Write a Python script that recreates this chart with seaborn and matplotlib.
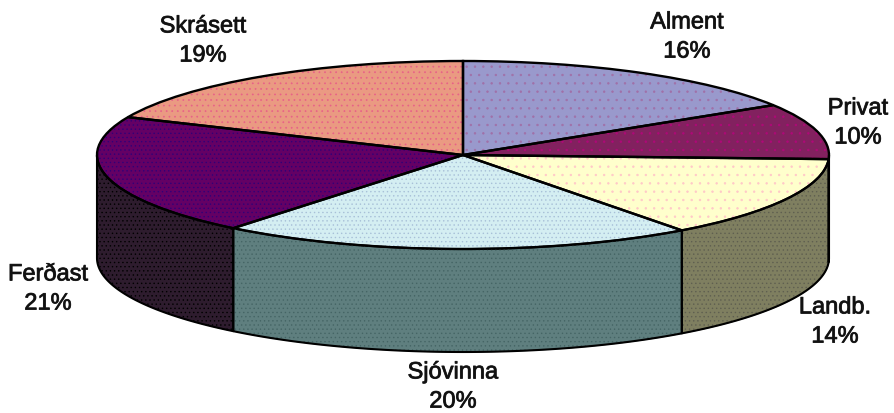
import numpy as np
import matplotlib
matplotlib.use("Agg")
import matplotlib.pyplot as plt
import matplotlib.patheffects as pe
import seaborn as sns

# Data
categories = ["Alment", "Privat", "Landb.", "Sjóvinna", "Ferðast", "Skrásett"]
label_percents = [16, 10, 14, 20, 21, 19]
slice_shares = [16.1, 9.6, 14.1, 21.0, 20.8, 18.4]

# Style
top_colors = ["#9999cc", "#82215f", "#ffffcc", "#d4eef2", "#640064", "#ea9a82"]
top_dots = ["#a070a8", "#b00878", "#ffc8c8", "#a8c0d8", "#300078", "#e86088"]
top_hatch = ["..", "..", "..", "....", "....", "..."]
side_colors = ["#4c4c66", "#41102f", "#7f7f60", "#5f7f7f", "#2e1c2e", "#754d41"]
side_dots = ["#404060", "#300020", "#5f5f50", "#456565", "#000000", "#604030"]
label_xy_px = [(687, 38), (858, 124), (835, 323), (453, 388), (48, 290), (203, 42)]

W, H = 894, 414
CX, CY, RX, RY, DEPTH = 463, 156, 366, 94, 103

sns.set_theme(style="white")
plt.rcParams["font.family"] = ["Liberation Sans", "DejaVu Sans"]
plt.rcParams["hatch.linewidth"] = 0.5

fig = plt.figure(figsize=(W / 100, H / 100), dpi=100, facecolor="white")
ax = fig.add_axes([0, 0, 1, 1])

start = 90
edges = start - np.cumsum([0] + slice_shares) * 3.6
depth = DEPTH / RY


def side_wall(a0, a1, color, hatch_color):
    lo, hi = max(a1, -180), min(a0, 0)
    if lo >= hi:
        return
    t = np.radians(np.linspace(hi, lo, 160))
    x, y = np.cos(t), np.sin(t)
    ax.fill_between(x, y, y - depth, facecolor=color, linewidth=0, zorder=1)
    ax.fill_between(x, y, y - depth, facecolor="none", edgecolor=hatch_color, hatch="....",
                    linewidth=0, zorder=1.1)
    ax.fill_between(x, y, y - depth, facecolor="none", edgecolor="black", linewidth=1.5, zorder=1.2)


for a0, a1, c, d in zip(edges[:-1], edges[1:], side_colors, side_dots):
    side_wall(a0, a1, c, d)

base, _ = ax.pie(slice_shares, startangle=start, counterclock=False, colors=top_colors,
                 wedgeprops=dict(linewidth=0))
texture, _ = ax.pie(slice_shares, startangle=start, counterclock=False, colors=top_colors,
                    wedgeprops=dict(linewidth=0))
for w, d, h in zip(texture, top_dots, top_hatch):
    w.set_facecolor("none")
    w.set_edgecolor(d)
    w.set_hatch(h)
outline, _ = ax.pie(slice_shares, startangle=start, counterclock=False, colors=top_colors,
                    wedgeprops=dict(linewidth=1.7, edgecolor="black", facecolor="none"))
for w in outline:
    w.set_facecolor("none")

ax.set_aspect("auto")
ax.set_xlim(-CX / RX, (W - CX) / RX)
ax.set_ylim(-(H - CY) / RY, CY / RY)
ax.axis("off")

for name, pct, (px, py) in zip(categories, label_percents, label_xy_px):
    ax.text(px / W, 1 - py / H, f"{name}\n{pct}%", transform=ax.transAxes, ha="center",
            va="center", fontsize=17, color="#111111", linespacing=1.42,
            path_effects=[pe.withStroke(linewidth=0.6, foreground="#222222")])

fig.savefig("out.png", dpi=100, facecolor="white")
